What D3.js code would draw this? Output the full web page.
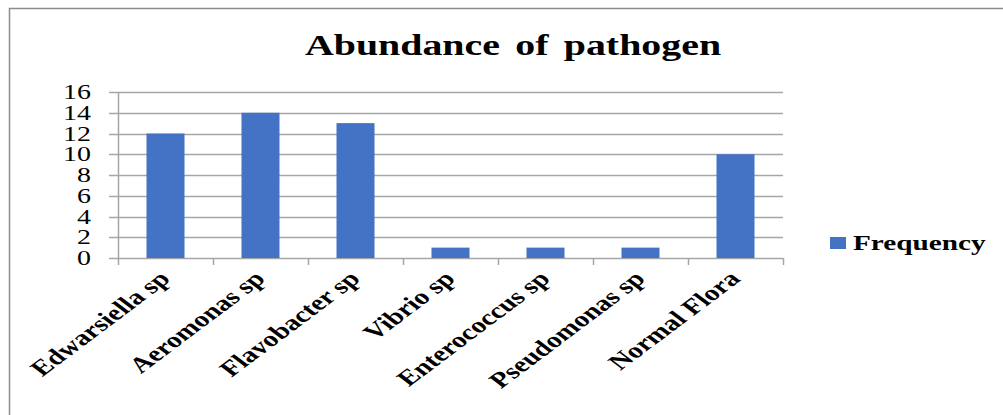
<!DOCTYPE html>
<html>
<head>
<meta charset="utf-8">
<script src="https://cdn.jsdelivr.net/npm/d3@7"></script>
<style>
  body { margin: 0; background: #fff; }
  text { font-family: "Liberation Serif", "Times New Roman", serif; fill: #000; }
</style>
</head>
<body>
<div id="chart"></div>
<script>
// data
var categories = ["Edwarsiella sp", "Aeromonas sp", "Flavobacter sp", "Vibrio sp",
                  "Enterococcus sp", "Pseudomonas sp", "Normal Flora"];
var frequency = [12, 14, 13, 1, 1, 1, 10];
var yTicks = [0, 2, 4, 6, 8, 10, 12, 14, 16];
var seriesName = "Frequency";

var width = 1003, height = 415;
var sx = 1.33; // the source picture is stretched sideways
var blue = "#4472c4", grid = "#a6a6a6";

var svg = d3.select("#chart")
  .append("svg")
    .attr("width", width)
    .attr("height", height);

// outer frame (cut off right and bottom)
svg.append("rect")
  .attr("x", 9.5).attr("y", 8.5)
  .attr("width", 1100).attr("height", 500)
  .attr("fill", "none")
  .attr("stroke", "#8c8c8c")
  .attr("stroke-width", 1.5);

var x = d3.scaleBand()
  .domain(categories)
  .range([118, 783])
  .padding(0);

var y = d3.scaleLinear()
  .domain([0, 16])
  .range([258, 92]);

// gridlines + left ticks
svg.append("g")
  .selectAll("line")
  .data(yTicks)
  .join("line")
    .attr("x1", 109).attr("x2", 783)
    .attr("y1", function(d) { return Math.round(y(d)) + 0.5; })
    .attr("y2", function(d) { return Math.round(y(d)) + 0.5; })
    .attr("stroke", grid)
    .attr("stroke-width", 1.5);

// y axis line
svg.append("line")
  .attr("x1", 118.5).attr("x2", 118.5)
  .attr("y1", 92).attr("y2", 265)
  .attr("stroke", grid)
  .attr("stroke-width", 1.5);

// bottom ticks at band edges
var edges = categories.map(function(c) { return x(c); }).concat([x.range()[1]]);
svg.append("g")
  .selectAll("line")
  .data(edges.slice(1))
  .join("line")
    .attr("x1", function(d) { return Math.round(d) + 0.5; })
    .attr("x2", function(d) { return Math.round(d) + 0.5; })
    .attr("y1", 258).attr("y2", 265)
    .attr("stroke", grid)
    .attr("stroke-width", 1.5);

// y tick labels
svg.append("g")
  .selectAll("text")
  .data(yTicks)
  .join("text")
    .attr("transform", function(d) { return "translate(91," + (y(d) + 7) + ") scale(" + sx + ",1)"; })
    .attr("text-anchor", "end")
    .style("font-size", "21px")
    .text(function(d) { return d; });

// bars
var bw = x.bandwidth() * 0.4;
svg.append("g")
  .selectAll("rect")
  .data(frequency)
  .join("rect")
    .attr("x", function(d, i) { return x(categories[i]) + (x.bandwidth() - bw) / 2; })
    .attr("y", function(d) { return y(d); })
    .attr("width", bw)
    .attr("height", function(d) { return y(0) - y(d); })
    .attr("fill", blue);

// category labels, rotated
svg.append("g")
  .selectAll("text")
  .data(categories)
  .join("text")
    .attr("transform", function(d) {
      return "translate(" + (x(d) + x.bandwidth() / 2 + 6) + ",280) scale(" + sx + ",1) rotate(-45)";
    })
    .attr("text-anchor", "end")
    .style("font-size", "22px")
    .style("font-weight", "bold")
    .text(function(d) { return d; });

// title
svg.append("text")
  .attr("transform", "translate(513,55) scale(" + sx + ",1)")
  .attr("text-anchor", "middle")
  .style("font-size", "30px")
  .style("font-weight", "bold")
  .style("word-spacing", "4px")
  .text("Abundance of pathogen");

// legend
svg.append("rect")
  .attr("x", 830).attr("y", 237)
  .attr("width", 16).attr("height", 12)
  .attr("fill", blue);
svg.append("text")
  .attr("transform", "translate(853,250) scale(" + sx + ",1)")
  .style("font-size", "22px")
  .style("font-weight", "bold")
  .text(seriesName);
</script>
</body>
</html>
